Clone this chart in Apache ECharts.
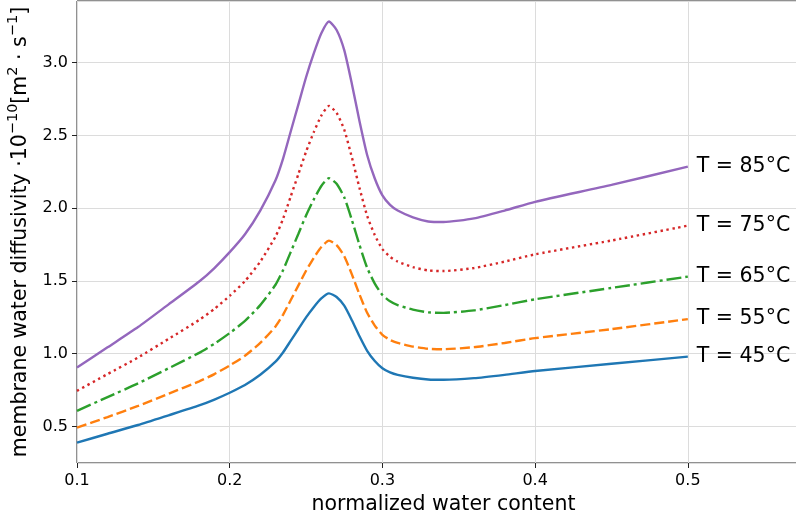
<!DOCTYPE html>
<html>
<head>
<meta charset="utf-8">
<script src="https://cdn.jsdelivr.net/npm/echarts@6/dist/echarts.min.js"></script>
<style>html,body{margin:0;padding:0;background:#fff;}#c{width:796px;height:523px;}</style>
</head>
<body>
<div id="c"></div>
<script>
// normalized water content (x)
const waterContent = [0.10,0.12,0.14,0.16,0.18,0.19,0.20,0.21,0.22,0.23,0.235,0.24,0.245,0.25,0.255,0.26,0.265,0.27,0.275,0.28,0.285,0.29,0.295,0.30,0.305,0.31,0.32,0.33,0.34,0.36,0.38,0.40,0.45,0.50];
// membrane water diffusivity (1e-10 m^2/s) per temperature
const d45 = [0.389,0.45,0.51,0.577,0.645,0.685,0.732,0.785,0.855,0.945,1.01,1.09,1.17,1.25,1.32,1.38,1.415,1.39,1.33,1.23,1.12,1.02,0.95,0.90,0.872,0.855,0.835,0.823,0.821,0.832,0.855,0.881,0.931,0.98];
const d55 = [0.492,0.565,0.641,0.725,0.81,0.86,0.919,0.986,1.074,1.187,1.269,1.369,1.47,1.57,1.658,1.733,1.777,1.746,1.67,1.545,1.407,1.281,1.193,1.130,1.095,1.074,1.049,1.034,1.031,1.045,1.074,1.107,1.169,1.238];
const d65 = [0.607,0.702,0.796,0.90,1.006,1.069,1.142,1.225,1.334,1.474,1.576,1.70,1.825,1.95,2.059,2.153,2.207,2.168,2.075,1.919,1.747,1.591,1.482,1.404,1.360,1.334,1.303,1.284,1.281,1.298,1.334,1.374,1.452,1.53];
const d75 = [0.745,0.86,0.974,1.102,1.232,1.308,1.398,1.499,1.633,1.805,1.929,2.082,2.235,2.388,2.521,2.636,2.703,2.655,2.54,2.349,2.139,1.948,1.815,1.719,1.666,1.633,1.595,1.572,1.568,1.589,1.633,1.683,1.778,1.88];
const d85 = [0.905,1.044,1.183,1.339,1.496,1.589,1.698,1.821,1.984,2.192,2.343,2.529,2.714,2.90,3.062,3.202,3.283,3.225,3.086,2.854,2.598,2.366,2.204,2.088,2.023,1.984,1.937,1.909,1.905,1.93,1.984,2.044,2.16,2.286];
const seriesLabels = ['T = 45°C','T = 55°C','T = 65°C','T = 75°C','T = 85°C'];
const xTicks = [0.1,0.2,0.3,0.4,0.5];
const yTicks = [0.5,1.0,1.5,2.0,2.5,3.0];

const FONT = 'DejaVu Sans';
const colors = ['#1f77b4','#ff7f0e','#2ca02c','#d62728','#9467bd'];
const dashes = ['solid',[10,4],[15,4,3,4],[2.4,3.6],'solid'];
const allData = [d45,d55,d65,d75,d85];

const series = allData.map((arr,i)=>({
  type:'line',
  data: waterContent.map((x,j)=>[x,arr[j]]),
  showSymbol:false,
  smooth:0.2,
  lineStyle:{color:colors[i],width:2.4,type:dashes[i],cap:'butt'},
  itemStyle:{color:colors[i]},
  endLabel:{show:true,formatter:seriesLabels[i],color:'#000',fontSize:20.5,fontFamily:FONT,distance:9},
  z: 5-i
}));

function fmt(list){
  return v=>{const t=list.find(k=>Math.abs(k-v)<1e-9);return t===undefined?'':t.toFixed(1);};
}

const chart = echarts.init(document.getElementById('c'),null,{renderer:'canvas'});
chart.setOption({
  animation:false,
  backgroundColor:'#fff',
  grid:{left:77,top:1,width:733,height:462,outerBoundsMode:'none',containLabel:false,
        show:true,borderColor:'#222',borderWidth:1,backgroundColor:'transparent'},
  xAxis:{
    type:'value',min:0.1,max:0.58,minInterval:0.1,maxInterval:0.1,
    name:'normalized water content',nameLocation:'middle',nameGap:24,
    nameTextStyle:{fontSize:20.5,fontFamily:FONT,color:'#000'},
    axisLine:{show:false},
    axisTick:{show:true,length:5,lineStyle:{color:'#222',width:1}},
    axisLabel:{fontSize:16,fontFamily:FONT,color:'#000',margin:10,showMaxLabel:false,formatter:fmt(xTicks)},
    splitLine:{show:true,lineStyle:{color:'#dcdcdc',width:1}}
  },
  yAxis:{
    type:'value',min:0.249,max:3.424,minInterval:0.5,maxInterval:0.5,
    name:'{n|membrane water diffusivity ·10}{s|−10}{n|[m}{s|2}{n| · s}{s|−1}{n|]}',
    nameLocation:'middle',nameGap:41,nameRotate:90,
    nameTextStyle:{fontSize:20.5,fontFamily:FONT,color:'#000',
      rich:{n:{fontSize:20.5,fontFamily:FONT,color:'#000',lineHeight:26,verticalAlign:'bottom'},
            s:{fontSize:14.5,fontFamily:FONT,color:'#000',lineHeight:26,verticalAlign:'top'}}},
    axisLine:{show:false},
    axisTick:{show:true,length:5,lineStyle:{color:'#222',width:1}},
    axisLabel:{fontSize:16,fontFamily:FONT,color:'#000',margin:9,showMinLabel:false,showMaxLabel:false,formatter:fmt(yTicks)},
    splitLine:{show:true,lineStyle:{color:'#dcdcdc',width:1}}
  },
  series:series
});
</script>
</body>
</html>
